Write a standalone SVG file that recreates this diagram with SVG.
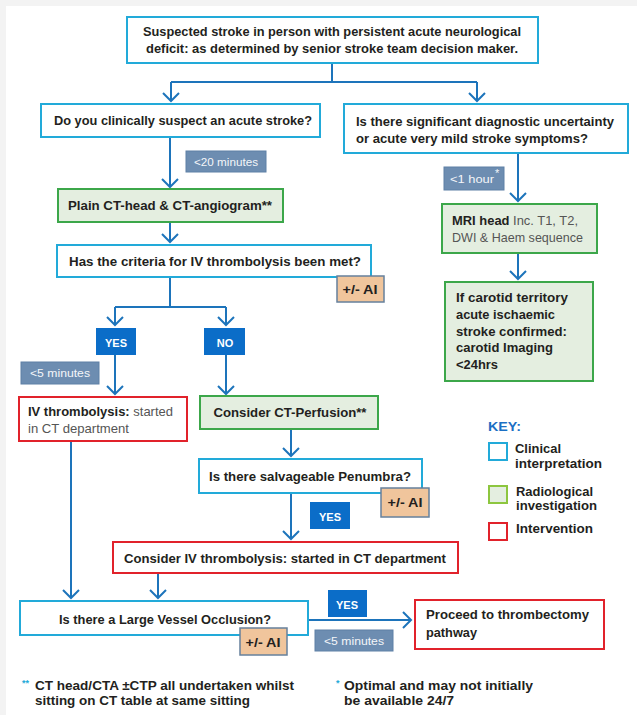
<svg xmlns="http://www.w3.org/2000/svg" width="637" height="715" viewBox="0 0 637 715">
<defs>
<style>
.t{font-family:"Liberation Sans",Arial,sans-serif;font-weight:bold;font-size:13px;fill:#231f20}
.r{font-weight:normal;fill:#555}
.w{font-family:"Liberation Sans",Arial,sans-serif;font-weight:bold;font-size:11px;fill:#fff}
.wl{font-family:"Liberation Sans",Arial,sans-serif;font-weight:normal;font-size:11px;fill:#f4f6f9}
.cy{fill:#fff;stroke:#22aad9;stroke-width:2}
.gr{fill:#e4eee0;stroke:#3ca74a;stroke-width:2}
.rd{fill:#fff;stroke:#e1222b;stroke-width:2}
.lb{fill:#6d8db1;stroke:#5f80a6;stroke-width:1}
.yn{fill:#0b6dc8}
.ai{fill:#f0c59c;stroke:#66809c;stroke-width:1.5}
.c{fill:none;stroke:#1d74bb;stroke-width:2}
.ca{fill:none;stroke:#1d74bb;stroke-width:2;marker-end:url(#ah)}
</style>
<marker id="ah" viewBox="-10 -10 12 20" markerWidth="12" markerHeight="20" refX="0" refY="0" orient="auto" markerUnits="userSpaceOnUse">
<path d="M-8,-8 L0,0 L-8,8" fill="none" stroke="#1d74bb" stroke-width="2"/>
</marker>
</defs>
<rect x="0" y="0" width="637" height="715" fill="#f3f3f3"/>
<rect x="6" y="6" width="631" height="709" fill="#fff"/>

<g id="connectors">
<path class="c" d="M332,63 V82 M171,82 H477"/>
<path class="ca" d="M171,82 V101"/>
<path class="ca" d="M477,82 V101"/>
<path class="ca" d="M170,137 V187"/>
<path class="ca" d="M170,222 V242"/>
<path class="c" d="M170,277 V307 M115,307 H226"/>
<path class="ca" d="M115,307 V325"/>
<path class="ca" d="M226,307 V325"/>
<path class="ca" d="M115,355 V394"/>
<path class="ca" d="M226,355 V394"/>
<path class="ca" d="M291,429 V456"/>
<path class="ca" d="M291,493 V539"/>
<path class="ca" d="M71,441 V598"/>
<path class="ca" d="M158,573 V598"/>
<path class="ca" d="M308,620 H411"/>
<path class="ca" d="M518,153 V201"/>
<path class="ca" d="M518,253 V279"/>
</g>

<g id="n_start">
<rect class="cy" x="127" y="17" width="411" height="46"/>
<text class="t" x="332" y="36" text-anchor="middle" textLength="378" lengthAdjust="spacingAndGlyphs">Suspected stroke in person with persistent acute neurological</text>
<text class="t" x="332" y="53" text-anchor="middle" textLength="372" lengthAdjust="spacingAndGlyphs">deficit: as determined by senior stroke team decision maker.</text>
</g>

<g id="n_suspect">
<rect class="cy" x="41" y="104" width="279" height="33"/>
<text class="t" x="183" y="125" text-anchor="middle" textLength="258" lengthAdjust="spacingAndGlyphs">Do you clinically suspect an acute stroke?</text>
</g>

<g id="n_uncertain">
<rect class="cy" x="344" y="104" width="284" height="49"/>
<text class="t" x="356" y="126" textLength="258" lengthAdjust="spacingAndGlyphs">Is there significant diagnostic uncertainty</text>
<text class="t" x="356" y="143" textLength="232" lengthAdjust="spacingAndGlyphs">or acute very mild stroke symptoms?</text>
</g>

<g id="lbl_20">
<rect class="lb" x="186" y="151" width="80" height="21"/>
<text class="wl" x="226" y="166" text-anchor="middle" textLength="64" lengthAdjust="spacingAndGlyphs">&lt;20 minutes</text>
</g>

<g id="n_ct">
<rect class="gr" x="58" y="189" width="225" height="33"/>
<text class="t" x="170" y="210" text-anchor="middle" textLength="204" lengthAdjust="spacingAndGlyphs">Plain CT-head &amp; CT-angiogram**</text>
</g>

<g id="n_criteria">
<rect class="cy" x="57" y="245" width="314" height="32"/>
<text class="t" x="215" y="266" text-anchor="middle" textLength="292" lengthAdjust="spacingAndGlyphs">Has the criteria for IV thrombolysis been met?</text>
</g>

<g id="ai1">
<rect class="ai" x="337" y="276" width="47" height="26"/>
<text class="t" x="360" y="294" text-anchor="middle" textLength="35" lengthAdjust="spacingAndGlyphs">+/- AI</text>
</g>

<g id="yes1">
<rect class="yn" x="96" y="328" width="40" height="27"/>
<text class="w" x="116" y="347" text-anchor="middle" font-size="12">YES</text>
</g>

<g id="no1">
<rect class="yn" x="204" y="328" width="41" height="27"/>
<text class="w" x="225" y="347" text-anchor="middle" font-size="12">NO</text>
</g>

<g id="lbl_5a">
<rect class="lb" x="21" y="362" width="78" height="22"/>
<text class="wl" x="60" y="377" text-anchor="middle" textLength="60" lengthAdjust="spacingAndGlyphs">&lt;5 minutes</text>
</g>

<g id="n_ivt">
<rect class="rd" x="19" y="397" width="168" height="44"/>
<text class="t" x="28" y="416" textLength="145" lengthAdjust="spacingAndGlyphs">IV thrombolysis: <tspan class="r">started</tspan></text>
<text class="t r" x="28" y="433" textLength="101" lengthAdjust="spacingAndGlyphs">in CT department</text>
</g>

<g id="n_ctp">
<rect class="gr" x="200" y="396" width="178" height="33"/>
<text class="t" x="290" y="417" text-anchor="middle" textLength="153" lengthAdjust="spacingAndGlyphs">Consider CT-Perfusion**</text>
</g>

<g id="n_penumbra">
<rect class="cy" x="199" y="459" width="223" height="34"/>
<text class="t" x="310" y="481" text-anchor="middle" textLength="202" lengthAdjust="spacingAndGlyphs">Is there salvageable Penumbra?</text>
</g>

<g id="ai2">
<rect class="ai" x="381" y="488" width="48" height="29"/>
<text class="t" x="405" y="507" text-anchor="middle" textLength="35" lengthAdjust="spacingAndGlyphs">+/- AI</text>
</g>

<g id="yes2">
<rect class="yn" x="310" y="502" width="40" height="27"/>
<text class="w" x="330" y="521" text-anchor="middle" font-size="12">YES</text>
</g>

<g id="n_consider">
<rect class="rd" x="113" y="542" width="345" height="31"/>
<text class="t" x="285" y="563" text-anchor="middle" textLength="322" lengthAdjust="spacingAndGlyphs">Consider IV thrombolysis: started in CT department</text>
</g>

<g id="n_lvo">
<rect class="cy" x="20" y="601" width="288" height="34"/>
<text class="t" x="165" y="624" text-anchor="middle" textLength="212" lengthAdjust="spacingAndGlyphs">Is there a Large Vessel Occlusion?</text>
</g>

<g id="ai3">
<rect class="ai" x="240" y="628" width="47" height="27"/>
<text class="t" x="263" y="647" text-anchor="middle" textLength="35" lengthAdjust="spacingAndGlyphs">+/- AI</text>
</g>

<g id="yes3">
<rect class="yn" x="328" y="590" width="39" height="27"/>
<text class="w" x="347" y="609" text-anchor="middle" font-size="12">YES</text>
</g>

<g id="lbl_5b">
<rect class="lb" x="315" y="630" width="78" height="21"/>
<text class="wl" x="354" y="645" text-anchor="middle" textLength="60" lengthAdjust="spacingAndGlyphs">&lt;5 minutes</text>
</g>

<g id="n_thrombectomy">
<rect class="rd" x="415" y="600" width="189" height="49"/>
<text class="t" x="426" y="619" textLength="163" lengthAdjust="spacingAndGlyphs">Proceed to thrombectomy</text>
<text class="t" x="426" y="637" textLength="51" lengthAdjust="spacingAndGlyphs">pathway</text>
</g>

<g id="lbl_1h">
<rect class="lb" x="444" y="167" width="60" height="23"/>
<text class="wl" x="450" y="183" textLength="44" lengthAdjust="spacingAndGlyphs">&lt;1 hour</text>
<text class="wl" x="495" y="177" font-size="7">*</text>
</g>

<g id="n_mri">
<rect class="gr" x="442" y="204" width="155" height="49"/>
<text class="t" x="452" y="225" textLength="126" lengthAdjust="spacingAndGlyphs">MRI head <tspan class="r">Inc. T1, T2,</tspan></text>
<text class="t r" x="452" y="242" textLength="131" lengthAdjust="spacingAndGlyphs">DWI &amp; Haem sequence</text>
</g>

<g id="n_carotid">
<rect class="gr" x="445" y="282" width="148" height="99"/>
<text class="t" x="456" y="302" textLength="112" lengthAdjust="spacingAndGlyphs">If carotid territory</text>
<text class="t" x="456" y="319" textLength="99" lengthAdjust="spacingAndGlyphs">acute ischaemic</text>
<text class="t" x="456" y="336" textLength="111" lengthAdjust="spacingAndGlyphs">stroke confirmed:</text>
<text class="t" x="456" y="352" textLength="97" lengthAdjust="spacingAndGlyphs">carotid Imaging</text>
<text class="t" x="456" y="369" textLength="42" lengthAdjust="spacingAndGlyphs">&lt;24hrs</text>
</g>

<g id="key">
<text class="t" x="488" y="431" style="fill:#1b6fc4" textLength="33" lengthAdjust="spacingAndGlyphs">KEY:</text>
<rect x="489" y="443" width="18" height="17" fill="#fff" stroke="#22aad9" stroke-width="2"/>
<text class="t" x="515" y="453" textLength="46" lengthAdjust="spacingAndGlyphs">Clinical</text>
<text class="t" x="515" y="468" textLength="87" lengthAdjust="spacingAndGlyphs">interpretation</text>
<rect x="489" y="486" width="18" height="17" fill="#e4eee0" stroke="#8dc63f" stroke-width="2"/>
<text class="t" x="516" y="496" textLength="77" lengthAdjust="spacingAndGlyphs">Radiological</text>
<text class="t" x="516" y="510" textLength="81" lengthAdjust="spacingAndGlyphs">investigation</text>
<rect x="489" y="523" width="18" height="17" fill="#fff" stroke="#e1222b" stroke-width="2"/>
<text class="t" x="516" y="533" textLength="77" lengthAdjust="spacingAndGlyphs">Intervention</text>
</g>

<g id="footnotes">
<text x="22" y="686" font-family="Liberation Sans, Arial, sans-serif" font-size="9" font-weight="bold" fill="#22aad9">**</text>
<text class="t" x="35" y="690" textLength="259" lengthAdjust="spacingAndGlyphs">CT head/CTA ±CTP all undertaken whilst</text>
<text class="t" x="35" y="705" textLength="215" lengthAdjust="spacingAndGlyphs">sitting on CT table at same sitting</text>
<text x="336" y="686" font-family="Liberation Sans, Arial, sans-serif" font-size="9" font-weight="bold" fill="#22aad9">*</text>
<text class="t" x="344" y="690" textLength="189" lengthAdjust="spacingAndGlyphs">Optimal and may not initially</text>
<text class="t" x="344" y="705" textLength="110" lengthAdjust="spacingAndGlyphs">be available 24/7</text>
</g>
</svg>
